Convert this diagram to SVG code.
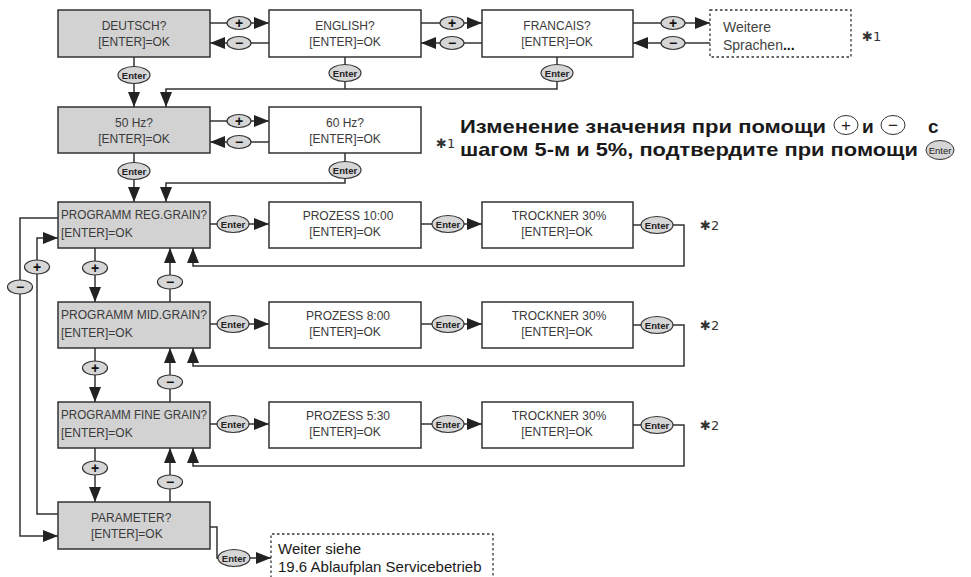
<svg xmlns="http://www.w3.org/2000/svg" width="971" height="577" viewBox="0 0 971 577">
<defs>
<marker id="ah" markerUnits="userSpaceOnUse" markerWidth="15" markerHeight="12" refX="15" refY="6" orient="auto"><path d="M0,0 L15,6 L0,12 z" fill="#222"/></marker>
<style>
.box{fill:#fff;stroke:#333;stroke-width:1.5}
.g{fill:#d2d2d2}
.dash{fill:#fff;stroke:#333;stroke-width:1.3;stroke-dasharray:2.5 2.5}
.t{font-family:"Liberation Sans",Arial,sans-serif;font-size:12px;fill:#3a3a3a}
.c{text-anchor:middle}
.ln{fill:none;stroke:#333;stroke-width:1.5}
.ov{fill:#d6d6d6;stroke:#333;stroke-width:1.2}
.en{font-family:"Liberation Sans",Arial,sans-serif;font-size:9.5px;font-weight:bold;fill:#222;text-anchor:middle}
.pm{font-family:"Liberation Sans",Arial,sans-serif;font-size:14px;font-weight:bold;fill:#111;text-anchor:middle}
.st{font-family:"DejaVu Sans","Liberation Sans",sans-serif;font-size:13px;fill:#333}
.ru{font-family:"Liberation Sans",Arial,sans-serif;font-size:19px;font-weight:bold;fill:#1a1a1a}
.w{font-family:"Liberation Sans",Arial,sans-serif;font-size:14px;fill:#444}
.nx{font-family:"Liberation Sans",Arial,sans-serif;font-size:15px;fill:#1a1a1a}
</style>
</defs>
<rect width="971" height="577" fill="#fff"/>

<g id="connectors">
<path class="ln" d="M210,23 H269" marker-end="url(#ah)"/>
<path class="ln" d="M269,43 H210" marker-end="url(#ah)"/>
<path class="ln" d="M421,23 H482" marker-end="url(#ah)"/>
<path class="ln" d="M482,43 H421" marker-end="url(#ah)"/>
<path class="ln" d="M633,23 H710" marker-end="url(#ah)"/>
<path class="ln" d="M710,43 H633" marker-end="url(#ah)"/>
<path class="ln" d="M134,57 V107" marker-end="url(#ah)"/>
<path class="ln" d="M557,57 V89 H166 V107" marker-end="url(#ah)"/>
<path class="ln" d="M345,57 V89"/>
<path class="ln" d="M210,121 H269" marker-end="url(#ah)"/>
<path class="ln" d="M269,142 H210" marker-end="url(#ah)"/>
<path class="ln" d="M134,153 V202" marker-end="url(#ah)"/>
<path class="ln" d="M345,153 V183 H166 V202" marker-end="url(#ah)"/>
<path class="ln" d="M210,224 H269" marker-end="url(#ah)"/>
<path class="ln" d="M421,224 H482" marker-end="url(#ah)"/>
<path class="ln" d="M633,225 H684 V266 H193 V248" marker-end="url(#ah)"/>
<path class="ln" d="M210,324 H269" marker-end="url(#ah)"/>
<path class="ln" d="M421,324 H482" marker-end="url(#ah)"/>
<path class="ln" d="M633,325 H684 V366 H193 V348" marker-end="url(#ah)"/>
<path class="ln" d="M210,424 H269" marker-end="url(#ah)"/>
<path class="ln" d="M421,424 H482" marker-end="url(#ah)"/>
<path class="ln" d="M633,425 H684 V466 H193 V448" marker-end="url(#ah)"/>
<path class="ln" d="M95,248 V302" marker-end="url(#ah)"/>
<path class="ln" d="M170,302 V248" marker-end="url(#ah)"/>
<path class="ln" d="M95,348 V402" marker-end="url(#ah)"/>
<path class="ln" d="M170,402 V348" marker-end="url(#ah)"/>
<path class="ln" d="M95,448 V502" marker-end="url(#ah)"/>
<path class="ln" d="M170,502 V448" marker-end="url(#ah)"/>
<path class="ln" d="M58,218 H20 V536 H58" marker-end="url(#ah)"/>
<path class="ln" d="M58,514 H37 V238 H58" marker-end="url(#ah)"/>
<path class="ln" d="M210,527 H217 V558 H271" marker-end="url(#ah)"/>

<g>
<ellipse class="ov" cx="239" cy="23" rx="12" ry="6.5"/><text class="pm" x="239" y="28">+</text>
<ellipse class="ov" cx="239" cy="43" rx="12" ry="6.5"/><text class="pm" x="239" y="48">−</text>
<ellipse class="ov" cx="452" cy="23" rx="12" ry="6.5"/><text class="pm" x="452" y="28">+</text>
<ellipse class="ov" cx="452" cy="43" rx="12" ry="6.5"/><text class="pm" x="452" y="48">−</text>
<ellipse class="ov" cx="673" cy="23" rx="12" ry="6.5"/><text class="pm" x="673" y="28">+</text>
<ellipse class="ov" cx="673" cy="43" rx="12" ry="6.5"/><text class="pm" x="673" y="48">−</text>
<ellipse class="ov" cx="239" cy="121" rx="12" ry="6.5"/><text class="pm" x="239" y="126">+</text>
<ellipse class="ov" cx="239" cy="142" rx="12" ry="6.5"/><text class="pm" x="239" y="147">−</text>

<ellipse class="ov" cx="134" cy="75" rx="16" ry="8.5"/><text class="en" x="134" y="78.5">Enter</text>
<ellipse class="ov" cx="345" cy="73" rx="16" ry="8.5"/><text class="en" x="345" y="76.5">Enter</text>
<ellipse class="ov" cx="557" cy="73" rx="16" ry="8.5"/><text class="en" x="557" y="76.5">Enter</text>
<ellipse class="ov" cx="134" cy="171" rx="16" ry="8.5"/><text class="en" x="134" y="174.5">Enter</text>
<ellipse class="ov" cx="345" cy="170" rx="16" ry="8.5"/><text class="en" x="345" y="173.5">Enter</text>

<ellipse class="ov" cx="233" cy="224" rx="16" ry="8.5"/><text class="en" x="233" y="227.5">Enter</text>
<ellipse class="ov" cx="448" cy="224" rx="16" ry="8.5"/><text class="en" x="448" y="227.5">Enter</text>
<ellipse class="ov" cx="657" cy="225" rx="16" ry="8.5"/><text class="en" x="657" y="228.5">Enter</text>
<ellipse class="ov" cx="233" cy="324" rx="16" ry="8.5"/><text class="en" x="233" y="327.5">Enter</text>
<ellipse class="ov" cx="448" cy="324" rx="16" ry="8.5"/><text class="en" x="448" y="327.5">Enter</text>
<ellipse class="ov" cx="657" cy="325" rx="16" ry="8.5"/><text class="en" x="657" y="328.5">Enter</text>
<ellipse class="ov" cx="233" cy="424" rx="16" ry="8.5"/><text class="en" x="233" y="427.5">Enter</text>
<ellipse class="ov" cx="448" cy="424" rx="16" ry="8.5"/><text class="en" x="448" y="427.5">Enter</text>
<ellipse class="ov" cx="657" cy="425" rx="16" ry="8.5"/><text class="en" x="657" y="428.5">Enter</text>
<ellipse class="ov" cx="234" cy="558" rx="16" ry="8.5"/><text class="en" x="234" y="561.5">Enter</text>

<ellipse class="ov" cx="95" cy="268" rx="12.5" ry="7"/><text class="pm" x="95" y="273">+</text>
<ellipse class="ov" cx="170" cy="282" rx="12.5" ry="7"/><text class="pm" x="170" y="287">−</text>
<ellipse class="ov" cx="95" cy="368" rx="12.5" ry="7"/><text class="pm" x="95" y="373">+</text>
<ellipse class="ov" cx="170" cy="382" rx="12.5" ry="7"/><text class="pm" x="170" y="387">−</text>
<ellipse class="ov" cx="95" cy="468" rx="12.5" ry="7"/><text class="pm" x="95" y="473">+</text>
<ellipse class="ov" cx="170" cy="482" rx="12.5" ry="7"/><text class="pm" x="170" y="487">−</text>
<ellipse class="ov" cx="37" cy="267" rx="12.5" ry="7"/><text class="pm" x="37" y="272">+</text>
<ellipse class="ov" cx="20" cy="287" rx="12.5" ry="7"/><text class="pm" x="20" y="292">−</text>
</g>
</g>

<g id="n_de"><rect class="box g" x="58" y="10" width="152" height="47"/><text class="t c" x="134" y="30">DEUTSCH?</text><text class="t c" x="134" y="46">[ENTER]=OK</text></g>
<g id="n_en"><rect class="box" x="269" y="10" width="152" height="47"/><text class="t c" x="345" y="30">ENGLISH?</text><text class="t c" x="345" y="46">[ENTER]=OK</text></g>
<g id="n_fr"><rect class="box" x="482" y="10" width="151" height="47"/><text class="t c" x="557" y="30">FRANCAIS?</text><text class="t c" x="557" y="46">[ENTER]=OK</text></g>
<g id="n_more"><rect class="dash" x="710" y="10" width="141" height="47"/><text class="w" x="723" y="32">Weitere</text><text class="w" x="723" y="50">Sprachen<tspan font-weight="bold" fill="#111">...</tspan></text></g>
<text class="st" x="862" y="41">✱1</text>

<g id="n_50"><rect class="box g" x="58" y="107" width="152" height="46"/><text class="t c" x="134" y="127">50 Hz?</text><text class="t c" x="134" y="143">[ENTER]=OK</text></g>
<g id="n_60"><rect class="box" x="269" y="107" width="152" height="46"/><text class="t c" x="345" y="127">60 Hz?</text><text class="t c" x="345" y="143">[ENTER]=OK</text></g>
<text class="st" x="436" y="148">✱1</text>

<g id="note">
<text class="ru" x="460" y="133" textLength="366" lengthAdjust="spacingAndGlyphs">Изменение значения при помощи</text>
<ellipse cx="846" cy="125" rx="12" ry="9.5" fill="#fff" stroke="#333" stroke-width="1"/><text x="846" y="131" text-anchor="middle" font-family="Liberation Sans,sans-serif" font-size="17" fill="#222">+</text>
<text class="ru" x="862" y="133">и</text>
<ellipse cx="893" cy="125" rx="12" ry="9.5" fill="#fff" stroke="#333" stroke-width="1"/><text x="893" y="131" text-anchor="middle" font-family="Liberation Sans,sans-serif" font-size="17" fill="#222">−</text>
<text class="ru" x="928" y="133">с</text>
<text class="ru" x="460" y="156" textLength="458" lengthAdjust="spacingAndGlyphs">шагом 5-м и 5%, подтвердите при помощи</text>
<ellipse cx="940" cy="150" rx="14" ry="9.5" fill="#d6d6d6" stroke="#333" stroke-width="1"/><text x="940" y="153.5" text-anchor="middle" font-family="Liberation Sans,sans-serif" font-size="9.5" fill="#222">Enter</text>
</g>

<g id="n_reg"><rect class="box g" x="58" y="202" width="152" height="46"/><text class="t" x="61" y="219" textLength="146" lengthAdjust="spacingAndGlyphs">PROGRAMM  REG.GRAIN?</text><text class="t" x="61" y="237">[ENTER]=OK</text></g>
<g id="n_p1"><rect class="box" x="269" y="202" width="152" height="46"/><text class="t c" x="348" y="220">PROZESS 10:00</text><text class="t c" x="345" y="236">[ENTER]=OK</text></g>
<g id="n_t1"><rect class="box" x="482" y="202" width="151" height="46"/><text class="t c" x="559" y="220">TROCKNER 30%</text><text class="t c" x="557" y="236">[ENTER]=OK</text></g>
<text class="st" x="700" y="230">✱2</text>

<g id="n_mid"><rect class="box g" x="58" y="302" width="152" height="46"/><text class="t" x="61" y="319" textLength="146" lengthAdjust="spacingAndGlyphs">PROGRAMM  MID.GRAIN?</text><text class="t" x="61" y="337">[ENTER]=OK</text></g>
<g id="n_p2"><rect class="box" x="269" y="302" width="152" height="46"/><text class="t c" x="348" y="320">PROZESS 8:00</text><text class="t c" x="345" y="336">[ENTER]=OK</text></g>
<g id="n_t2"><rect class="box" x="482" y="302" width="151" height="46"/><text class="t c" x="559" y="320">TROCKNER 30%</text><text class="t c" x="557" y="336">[ENTER]=OK</text></g>
<text class="st" x="700" y="330">✱2</text>

<g id="n_fine"><rect class="box g" x="58" y="402" width="152" height="46"/><text class="t" x="61" y="419" textLength="146" lengthAdjust="spacingAndGlyphs">PROGRAMM  FINE GRAIN?</text><text class="t" x="61" y="437">[ENTER]=OK</text></g>
<g id="n_p3"><rect class="box" x="269" y="402" width="152" height="46"/><text class="t c" x="348" y="420">PROZESS 5:30</text><text class="t c" x="345" y="436">[ENTER]=OK</text></g>
<g id="n_t3"><rect class="box" x="482" y="402" width="151" height="46"/><text class="t c" x="559" y="420">TROCKNER 30%</text><text class="t c" x="557" y="436">[ENTER]=OK</text></g>
<text class="st" x="700" y="430">✱2</text>

<g id="n_par"><rect class="box g" x="58" y="502" width="152" height="47"/><text class="t" x="91" y="522">PARAMETER?</text><text class="t" x="91" y="538">[ENTER]=OK</text></g>
<g id="n_next"><path class="dash" d="M271,578 V534 H493 V578"/><text class="nx" x="278" y="554">Weiter siehe</text><text class="nx" x="278" y="572">19.6 Ablaufplan Servicebetrieb</text></g>
</svg>
